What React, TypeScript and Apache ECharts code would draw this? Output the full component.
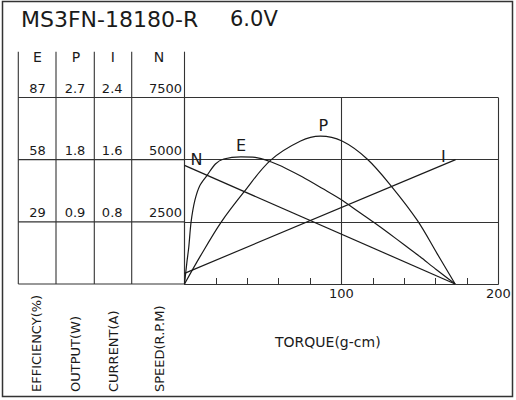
import { useEffect, useRef } from 'react';
import * as echarts from 'echarts';

// motor data
const modelName = 'MS3FN-18180-R';
const voltageLabel = '6.0V';

const columnHeads = ['E', 'P', 'I', 'N'];
const columnCaptions = ['EFFICIENCY(%)', 'OUTPUT(W)', 'CURRENT(A)', 'SPEED(R.P.M)'];
const torqueCaption = 'TORQUE(g-cm)';

const effTicks = [0, 29, 58, 87];
const outputTicks = [0, 0.9, 1.8, 2.7];
const currentTicks = [0, 0.8, 1.6, 2.4];
const speedTicks = [0, 2500, 5000, 7500];
const torqueLabels = [100, 200];

const effTorque = [0, 1.5, 2.7, 4.2, 6.6, 9.8, 14.4, 19.7, 25, 36, 45, 55, 65, 75, 88, 100, 110, 120.6, 130, 140, 150, 160, 172.5];
const effValues = [0, 10, 17, 29, 39, 46, 50.7, 56, 58.3, 59.3, 59.1, 57, 53.8, 50, 44.5, 39.3, 34.2, 28.8, 23.8, 18.3, 12.8, 7, 0];

const outputTorque = [0, 10, 23.5, 37.8, 54.8, 74, 86.6, 100.4, 116.4, 132.4, 148.4, 161, 172.5];
const outputValues = [0, 0.4, 0.9, 1.33, 1.79, 2.07, 2.14, 2.07, 1.81, 1.4, 0.92, 0.44, 0];

const currentTorque = [0, 172.8];
const currentValues = [0.137, 1.6];

const speedTorque = [0, 172.5];
const speedValues = [4770, 0];

const LINE = '#333';
const INK = '#1a1a1a';
const FONT = '"DejaVu Sans", Arial, sans-serif';

// table layout (px)
const colX = [18.3, 56, 94.3, 131.7, 184.5];
const headTop = 51.7;

const hideZero = (digits: number) => (v: number) => (v === 0 ? '' : v.toFixed(digits));

function pointLabel(text: string, position: string, distance: number, offset: number[]) {
  return {
    show: true,
    formatter: text,
    position,
    distance,
    offset,
    fontSize: 16,
    fontFamily: FONT,
    color: INK,
  };
}

function buildSeriesData(xs: number[], ys: number[], labelIndex: number, label: object) {
  return xs.map((x, i) => (i === labelIndex ? { value: [x, ys[i]], label } : [x, ys[i]]));
}

function sideAxis(ticks: number[], offset: number, margin: number, align: string, digits: number) {
  return {
    type: 'value',
    position: 'left',
    offset,
    min: ticks[0],
    max: ticks[ticks.length - 1],
    interval: ticks[1] - ticks[0],
    axisLine: { show: false },
    axisTick: { show: false },
    splitLine: { show: false },
    axisLabel: {
      align,
      verticalAlign: 'bottom',
      margin,
      padding: [0, 0, 3, 0],
      fontSize: 13,
      fontFamily: FONT,
      color: INK,
      formatter: hideZero(digits),
    },
  };
}

const curveLine = { color: INK, width: 1.2 };
const hiddenSymbol = { color: 'rgba(0,0,0,0)', borderWidth: 0 };
const gridLine = { color: LINE, width: 1.1 };

const option = {
  animation: false,
  backgroundColor: '#fff',
  grid: { left: colX[4], top: 97.5, right: 17.7, bottom: 116 },
  xAxis: [
    {
      type: 'value',
      min: 0,
      max: 200,
      interval: 20,
      axisLine: { show: true, lineStyle: gridLine },
      axisTick: { show: true, inside: true, length: 6, lineStyle: { color: LINE, width: 1 } },
      axisLabel: {
        margin: 3,
        fontSize: 13,
        fontFamily: FONT,
        color: INK,
        formatter: (v: number) => (torqueLabels.includes(v) ? String(v) : ''),
      },
      splitLine: { show: false },
    },
    {
      type: 'value',
      min: 0,
      max: 200,
      interval: 100,
      axisLine: { show: false },
      axisTick: { show: false },
      axisLabel: { show: false },
      splitLine: { show: true, lineStyle: gridLine },
    },
  ],
  yAxis: [
    {
      ...sideAxis(speedTicks, 0, 2.5, 'right', 0),
      splitLine: { show: true, lineStyle: gridLine },
    },
    sideAxis(effTicks, colX[4] - colX[1], 18.5, 'center', 0),
    sideAxis(outputTicks, colX[4] - colX[2], 19.3, 'center', 1),
    sideAxis(currentTicks, colX[4] - colX[3], 19.5, 'center', 1),
  ],
  series: [
    {
      name: 'N',
      type: 'line',
      yAxisIndex: 0,
      data: buildSeriesData(speedTorque, speedValues, 0, pointLabel('N', 'right', 5, [0, -6])),
      symbol: 'circle',
      symbolSize: 2,
      itemStyle: hiddenSymbol,
      lineStyle: curveLine,
      silent: true,
    },
    {
      name: 'E',
      type: 'line',
      yAxisIndex: 1,
      data: buildSeriesData(effTorque, effValues, 9, pointLabel('E', 'top', 2, [0, 0])),
      smooth: 0.3,
      symbol: 'circle',
      symbolSize: 2,
      itemStyle: hiddenSymbol,
      lineStyle: curveLine,
      silent: true,
    },
    {
      name: 'P',
      type: 'line',
      yAxisIndex: 2,
      data: buildSeriesData(outputTorque, outputValues, 6, pointLabel('P', 'top', 2, [3, 0])),
      smooth: 0.35,
      symbol: 'circle',
      symbolSize: 2,
      itemStyle: hiddenSymbol,
      lineStyle: curveLine,
      silent: true,
    },
    {
      name: 'I',
      type: 'line',
      yAxisIndex: 3,
      data: buildSeriesData(currentTorque, currentValues, 1, pointLabel('I', 'left', 9, [0, -3])),
      symbol: 'circle',
      symbolSize: 2,
      itemStyle: hiddenSymbol,
      lineStyle: curveLine,
      silent: true,
    },
  ],
};

function text(x: number, y: number, value: string, size: number, align = 'center', rotation = 0) {
  return {
    type: 'text',
    x,
    y,
    rotation,
    silent: true,
    style: {
      text: value,
      fontSize: size,
      fontFamily: FONT,
      fill: INK,
      textAlign: align,
      align,
      textVerticalAlign: 'middle',
      verticalAlign: 'middle',
    },
  };
}

function line(x1: number, y1: number, x2: number, y2: number) {
  return {
    type: 'line',
    silent: true,
    shape: { x1, y1, x2, y2 },
    style: { stroke: LINE, lineWidth: 1.1 },
  };
}

export default function App() {
  const chartRef = useRef<HTMLDivElement | null>(null);

  useEffect(() => {
    const element = chartRef.current;
    if (!element) {
      return;
    }

    const chart = echarts.init(element, null, { renderer: 'svg' });
    chart.setOption(option as any);

    // rows of the left table follow the speed axis
    const rowY = speedTicks.map((v) => chart.convertToPixel({ yAxisIndex: 0 }, v) as number);
    const bottomY = rowY[0];

    const graphics: any[] = [
      {
        type: 'rect',
        silent: true,
        shape: { x: 2.5, y: 1.5, width: 510, height: 395 },
        style: { fill: 'none', stroke: LINE, lineWidth: 1.5 },
      },
      text(21, 19, modelName, 22, 'left'),
      text(230, 19, voltageLabel, 21, 'left'),
      ...colX.map((x) => line(x, headTop, x, bottomY)),
      ...rowY.map((y) => line(colX[0], y, colX[4], y)),
      ...columnHeads.map((h, i) => text([37.5, 76, 112.7, 159][i], 56.7, h, 14)),
      ...columnCaptions.map((c, i) => text([36.7, 75.5, 113.3, 159.3][i], 392, c, 13, 'left', Math.PI / 2)),
      text(275, 341.7, torqueCaption, 14, 'left'),
    ];

    chart.setOption({ graphic: graphics });

    return () => {
      chart.dispose();
    };
  }, []);

  return (
    <div
      ref={chartRef}
      style={{ position: 'fixed', left: 0, top: 0, width: 516, height: 400, background: '#fff' }}
    />
  );
}
